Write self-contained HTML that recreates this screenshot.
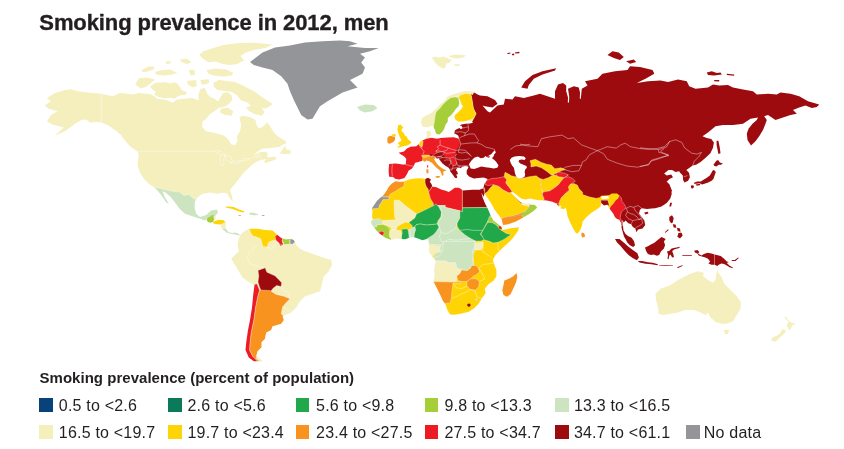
<!DOCTYPE html>
<html lang="en"><head><meta charset="utf-8"><title>Smoking prevalence in 2012, men</title>
<style>
html,body{margin:0;padding:0;background:#fff}
body{width:844px;height:449px;position:relative;overflow:hidden;font-family:"Liberation Sans",sans-serif;color:#231f20}
h1{position:absolute;left:39.3px;top:10.8px;margin:0;font-size:22px;line-height:24px;font-weight:bold;letter-spacing:-0.09px;white-space:nowrap;-webkit-text-stroke:0.35px #231f20}
.lh{position:absolute;left:39.5px;top:369.3px;font-size:15px;line-height:18px;font-weight:bold;letter-spacing:0.03px;white-space:nowrap}
.sw{position:absolute;width:13.7px;height:13.7px}
.lt{position:absolute;font-size:16px;line-height:18px;letter-spacing:0.2px;white-space:nowrap}
svg{position:absolute;left:0;top:0}
</style></head><body>
<svg width="844" height="449" viewBox="0 0 844 449" stroke-linejoin="round">
<defs><clipPath id="c1"><polygon points="47.0,98.0 55.0,93.0 65.0,90.0 71.2,89.2 77.5,91.2 87.5,92.5 101.2,93.8 112.5,96.2 120.0,93.0 126.2,93.8 133.8,94.5 138.8,93.0 145.0,93.8 151.2,94.5 156.2,97.5 156.7,98.8 165.6,99.7 172.8,102.7 176.3,99.7 183.4,98.8 192.4,97.9 198.6,100.6 198.6,94.3 200.4,89.0 204.8,88.1 207.0,93.4 210.2,97.0 214.6,98.8 218.2,101.5 222.6,93.4 227.1,91.7 231.5,95.2 232.4,99.7 228.9,104.1 224.4,106.8 219.1,107.7 215.5,110.4 210.2,113.9 204.8,120.0 202.5,121.2 202.0,127.0 206.2,131.2 215.0,133.0 223.8,135.5 228.8,140.0 231.2,144.5 235.0,145.0 237.5,141.2 237.0,136.2 240.0,131.2 241.2,125.0 239.5,117.5 242.5,115.8 250.0,117.0 255.4,120.1 256.6,124.9 259.0,128.4 262.5,126.7 265.5,124.3 266.7,121.9 269.6,125.5 272.0,129.6 275.6,134.4 280.3,137.9 285.6,140.9 285.7,141.0 285.7,143.4 282.1,145.1 279.8,146.9 270.3,148.1 262.0,148.7 257.3,151.7 253.1,155.8 255.5,154.6 259.6,152.3 265.5,151.7 267.9,153.4 266.7,156.4 269.1,157.6 273.8,156.8 276.4,157.2 275.6,159.4 271.5,161.1 267.9,162.3 265.0,162.9 264.4,161.1 266.1,158.8 263.2,159.4 259.6,160.5 255.5,162.3 253.7,163.5 250.7,165.9 247.8,168.8 243.8,172.5 240.0,177.5 235.0,183.8 230.0,190.0 232.0,196.2 232.8,201.2 230.0,198.8 227.5,193.8 223.8,192.5 217.5,193.8 210.0,192.5 202.5,193.8 197.5,197.5 195.0,201.2 194.5,207.5 196.2,213.8 200.0,217.0 206.2,215.0 211.2,210.5 217.0,209.5 218.0,212.5 215.0,216.2 212.5,218.8 207.5,218.8 205.0,220.5 200.0,218.8 192.5,216.2 185.0,213.8 179.5,208.8 175.0,202.5 170.0,196.2 165.5,192.5 162.5,191.2 165.0,197.5 168.8,203.8 166.2,202.5 161.2,195.0 157.0,190.0 155.0,188.0 148.8,183.8 143.8,178.8 140.0,172.5 137.5,165.0 138.8,155.0 137.5,151.2 130.0,146.2 122.5,137.5 118.8,130.0 128.8,142.5 122.5,136.2 115.0,130.0 107.5,125.0 101.2,122.5 96.2,122.0 90.0,122.5 86.2,119.5 81.2,120.0 75.0,123.8 65.0,131.2 55.0,135.5 63.8,127.5 58.8,126.2 52.5,124.5 47.0,121.2 51.2,115.0 57.5,111.2 48.8,108.8 44.5,105.5 51.2,101.2"/><polygon points="135.3,84.5 138.9,78.3 146.9,77.4 154.9,79.6 150.5,83.6 146.0,86.7 140.7,88.5"/><polygon points="150.1,86.4 155.5,82.8 164.4,82.3 171.5,83.4 173.8,82.3 177.4,83.4 179.8,87.0 182.1,90.5 186.9,92.3 185.7,94.7 180.9,95.3 177.4,96.5 175.0,98.8 170.3,97.7 164.4,98.2 158.4,97.1 153.7,94.1 156.1,92.3 152.5,89.4"/><polygon points="141.6,70.3 147.8,66.7 154.9,66.7 153.2,69.4 146.9,71.7 142.5,72.1"/><polygon points="154.9,72.1 162.1,70.3 170.1,69.4 177.2,73.0 171.0,74.7 163.8,75.6 156.7,74.7"/><polygon points="188.8,70.3 194.1,69.4 195.0,74.7 190.6,75.6"/><polygon points="179.9,59.6 187.0,58.7 191.5,62.3 187.0,64.1 181.7,62.3"/><polygon points="165.6,61.4 171.0,61.0 170.1,63.5 166.5,64.1"/><polygon points="187.0,81.0 195.9,80.1 196.8,86.3 192.4,87.2 187.9,84.5"/><polygon points="200.4,80.1 208.4,79.2 209.3,82.8 204.8,84.5 201.3,84.2"/><polygon points="199.5,55.1 203.0,51.6 210.2,48.9 222.6,45.3 236.9,43.2 254.7,42.7 272.5,44.5 265.4,48.0 254.7,49.8 245.8,52.5 240.5,56.0 244.0,60.5 236.9,64.1 229.8,64.9 222.6,64.1 215.5,61.4 208.4,62.3 203.0,58.7"/><polygon points="206.6,70.3 215.5,68.5 226.2,69.4 233.3,73.0 231.5,75.6 222.6,76.5 213.7,75.6 208.4,73.8"/><polygon points="213.7,82.8 219.1,80.1 226.2,81.0 235.1,81.9 240.5,84.5 247.6,88.1 254.7,91.7 261.8,97.0 269.0,101.5 272.5,104.1 269.0,106.8 265.4,108.6 261.8,107.7 264.5,112.2 261.8,115.7 254.7,113.9 249.4,111.3 245.8,107.7 251.1,105.9 247.6,102.4 241.3,100.6 236.9,95.2 231.5,91.7 224.4,90.8 217.3,89.9 213.7,86.3"/><polygon points="220.9,108.6 228.0,107.7 233.3,111.3 231.5,115.7 224.4,114.8 220.0,112.2"/><polygon points="279.8,153.4 282.7,149.3 285.1,145.7 286.3,149.3 290.4,150.5 291.0,153.4 286.9,154.0 283.3,154.0"/></clipPath><clipPath id="c2"><polygon points="250.0,62.0 262.5,52.5 275.0,47.5 290.0,45.5 305.0,42.5 322.5,41.2 340.0,40.5 350.0,41.2 357.5,43.8 347.5,46.2 365.0,48.0 378.8,48.0 370.0,51.2 360.0,53.8 365.0,57.5 361.2,62.5 365.0,67.5 362.5,73.8 357.5,76.2 350.0,80.0 357.5,87.5 350.0,90.0 342.5,92.5 336.2,96.2 327.5,101.2 320.0,106.2 316.2,112.5 312.5,118.8 307.5,119.5 301.2,115.0 297.5,107.5 293.8,100.0 290.0,91.2 287.5,83.8 281.2,76.2 272.5,70.0 262.5,67.5 253.8,65.0"/></clipPath><clipPath id="c3"><polygon points="357.0,107.0 365.0,104.5 373.8,105.0 377.5,108.0 372.5,111.2 365.0,112.5 360.0,110.5"/></clipPath><clipPath id="c4"><polygon points="431.8,57.8 435.4,56.6 439.0,57.8 443.7,56.6 448.4,58.4 452.0,60.1 449.6,62.5 446.1,63.7 444.9,68.4 441.3,67.8 437.8,65.5 434.8,61.9"/><polygon points="448.4,56.0 454.4,54.8 460.3,54.8 466.2,55.4 462.7,57.8 456.7,58.4 452.0,57.8"/><polygon points="454.4,64.3 459.7,64.3 459.7,66.1 454.4,66.1"/></clipPath><clipPath id="c5"><polygon points="422.8,126.7 421.0,122.8 421.9,118.3 426.3,115.6 431.7,113.0 435.2,109.4 440.6,104.1 445.9,99.6 446.8,96.9 451.3,95.1 458.4,92.8 465.5,91.0 472.6,91.6 477.1,94.3 480.0,95.5 487.5,96.2 495.0,100.0 497.5,103.8 492.5,107.5 485.0,106.2 482.5,105.5 487.5,111.2 490.0,112.5 497.5,105.5 503.8,104.5 505.0,98.8 512.5,99.5 515.0,96.2 523.8,98.0 533.8,95.5 540.0,93.8 547.5,96.2 555.0,98.8 555.0,91.2 558.0,84.5 563.0,83.0 566.2,85.5 566.2,91.2 568.0,97.5 567.8,102.5 569.0,102.5 569.2,96.2 568.0,88.8 573.8,86.2 578.8,87.5 580.0,92.5 579.8,98.8 580.8,98.8 581.8,88.8 587.5,85.5 585.0,81.2 597.5,78.8 602.5,73.8 615.0,71.2 627.5,70.0 630.0,66.2 640.0,67.0 652.5,70.0 653.8,72.5 654.2,73.8 645.5,78.8 636.8,83.0 648.0,81.2 660.5,80.5 668.0,82.0 678.0,79.5 686.8,81.2 689.2,86.2 695.5,88.8 708.0,87.5 713.0,84.5 719.2,85.5 728.0,85.0 733.0,87.5 743.0,89.5 753.0,91.2 756.8,94.5 768.0,93.8 776.8,94.5 780.5,92.5 790.5,93.8 799.2,96.2 808.0,101.2 819.2,104.5 816.8,107.0 811.8,108.0 805.5,105.5 799.2,107.5 793.0,110.0 796.8,113.8 790.5,115.0 783.0,117.5 775.5,120.0 768.0,115.0 764.2,116.2 766.8,120.0 765.0,125.0 763.0,130.0 759.2,136.2 755.5,141.2 751.0,145.5 747.5,140.0 746.8,133.8 748.5,128.8 752.5,123.8 756.8,120.0 758.0,117.5 750.5,118.8 743.0,123.8 733.0,125.0 723.0,125.0 715.5,126.2 708.0,132.5 702.5,136.2 706.8,138.0 711.3,138.9 713.9,142.5 713.0,147.8 710.4,153.2 705.9,157.6 700.6,162.1 696.1,164.7 692.6,165.6 689.9,167.4 686.3,170.1 689.0,172.8 689.9,177.2 688.1,180.8 684.5,182.6 683.1,179.9 682.8,175.4 680.1,172.8 679.2,171.3 675.6,171.9 672.1,170.1 668.5,170.1 664.1,173.6 666.7,175.4 671.2,174.5 673.0,177.2 669.4,179.0 666.7,181.7 669.4,184.3 671.2,188.8 671.7,194.1 670.3,198.6 666.7,203.0 661.4,206.6 654.3,208.4 668.4,185.0 672.0,190.3 670.2,196.6 666.6,201.9 661.3,205.5 654.1,208.2 647.0,209.1 641.7,208.2 639.9,209.9 639.0,213.5 641.7,217.1 644.3,220.6 645.2,225.1 642.6,228.6 638.1,229.5 636.3,232.2 635.4,228.6 632.8,226.9 631.3,224.2 628.3,223.3 625.6,220.6 623.8,222.4 622.1,219.7 623.0,226.0 623.5,230.4 625.6,234.0 628.0,235.9 631.6,237.7 633.9,241.0 635.1,245.3 633.2,247.0 629.9,245.3 627.3,242.4 625.6,239.3 624.0,236.5 623.0,233.1 621.7,228.6 621.2,223.3 619.4,219.7 616.7,218.8 614.9,217.1 613.2,213.5 610.5,209.9 608.7,207.3 606.9,204.6 609.4,208.3 607.6,204.7 604.0,205.6 601.3,203.0 600.5,206.5 596.9,209.2 591.5,212.8 586.2,217.2 582.6,221.7 581.8,226.1 580.0,230.6 577.3,233.8 575.5,232.4 572.8,227.9 570.2,222.6 567.5,216.3 566.6,211.0 565.7,207.4 563.9,209.2 560.4,208.3 561.3,205.6 558.6,206.5 556.8,203.8 552.4,201.7 547.0,200.6 542.6,200.3 539.0,200.3 534.5,199.4 530.1,198.5 525.6,199.4 521.2,198.5 516.7,194.9 513.2,192.3 510.5,192.3 512.3,194.1 514.9,196.7 517.6,199.4 520.3,202.1 523.8,203.0 526.5,203.8 529.2,203.0 531.0,204.7 534.5,204.7 537.2,207.4 533.6,211.0 528.3,214.5 522.4,218.1 515.3,221.7 508.2,224.2 503.4,225.1 502.8,224.0 501.6,219.2 499.2,215.7 496.3,212.1 493.9,208.6 492.1,205.0 490.4,202.0 489.0,199.9 486.3,196.3 484.5,193.6 483.3,188.3 484.5,183.8 486.7,180.6 487.7,178.9 483.6,177.6 478.3,178.1 473.8,178.5 469.4,176.7 466.7,174.1 466.7,170.5 468.5,167.6 467.9,166.4 465.6,166.0 462.0,166.8 460.8,168.2 459.1,167.6 457.0,168.2 455.9,170.0 457.3,171.7 457.9,174.1 456.1,174.7 457.3,176.5 456.7,178.2 454.9,177.7 453.7,175.9 451.9,173.5 450.4,171.7 449.9,169.4 448.4,167.6 445.4,165.8 442.5,163.4 440.1,160.5 438.3,158.1 437.1,158.7 435.4,157.5 434.2,159.3 435.9,162.3 438.3,165.2 441.9,168.2 445.4,170.0 446.6,171.1 444.2,171.1 443.1,172.3 443.6,174.7 442.5,175.9 441.3,173.5 440.1,170.5 437.1,168.2 434.2,165.2 431.8,162.8 428.8,161.1 426.5,160.5 424.7,161.7 422.9,160.5 419.4,161.7 415.2,162.8 413.4,166.4 411.7,168.8 408.7,170.5 406.9,174.3 404.5,177.9 399.2,179.4 395.1,178.8 393.3,177.1 389.1,176.7 388.6,170.5 389.1,164.0 395.7,163.4 402.8,164.6 405.7,164.6 406.3,158.7 404.0,156.3 401.0,154.5 398.6,152.8 404.0,151.6 406.9,148.6 410.5,146.8 416.4,146.3 418.8,143.9 420.5,141.5 422.9,140.3 425.3,139.1 426.7,138.4 426.7,134.3 426.0,132.0 428.1,131.1 430.2,130.8 431.1,134.3 429.5,136.7 432.6,137.9 437.0,138.8 440.6,137.9 447.8,137.6 453.7,137.2 459.0,138.8 458.4,135.8 456.7,134.6 454.3,133.4 454.9,130.5 456.7,129.3 459.6,128.1 460.8,129.3 462.6,128.1 461.4,125.7 459.6,125.7 461.4,124.5 465.5,123.7 470.3,123.4 473.2,122.5 471.5,121.6 469.7,121.0 467.9,120.4 463.2,121.6 458.4,121.6 455.5,119.8 454.3,116.8 455.5,114.5 458.4,112.1 461.4,109.1 462.6,106.8 461.1,103.2 459.3,98.7 458.4,98.7 459.3,103.2 458.4,106.4 456.1,108.6 453.7,112.1 451.3,115.1 447.8,118.0 447.8,121.6 445.4,125.1 444.2,128.7 442.4,131.7 439.5,134.6 436.5,134.0 435.3,131.7 435.2,129.9 433.4,127.2 432.6,125.4 428.1,127.2"/><polygon points="521.2,87.5 525.0,81.2 532.5,75.0 542.5,71.2 556.2,68.2 555.0,70.5 542.5,74.5 533.8,78.8 528.8,85.0 527.5,88.8"/><polygon points="507.1,53.3 510.0,52.4 510.6,53.6 507.7,54.0"/><polygon points="511.8,54.0 514.2,53.6 514.2,55.2 512.2,55.2"/><polygon points="514.8,52.4 519.5,51.8 519.3,53.3 515.4,53.6"/><polygon points="607.5,55.0 612.5,51.2 618.8,52.5 623.8,57.0 620.0,60.0 613.8,58.0"/><polygon points="626.2,61.2 633.8,59.5 636.2,62.0 630.0,63.8"/><polygon points="706.8,72.5 711.8,71.2 716.8,73.0 720.5,72.5 721.8,74.5 714.2,75.5 708.0,75.0"/><polygon points="726.8,73.8 734.2,74.5 734.2,75.8 726.8,75.0"/><polygon points="714.2,80.0 719.2,80.0 719.2,81.5 714.2,81.2"/><polygon points="716.6,140.7 718.4,140.7 719.8,147.8 720.5,153.2 718.4,154.1 717.5,149.6 716.6,145.1"/><polygon points="713.4,164.8 716.4,160.7 718.1,160.1 719.9,162.4 722.9,163.6 721.1,164.8 718.7,164.8 716.4,166.6 714.6,166.0"/><polygon points="714.0,170.1 715.8,171.9 714.6,175.5 713.4,179.0 711.6,180.8 708.1,182.6 704.5,183.8 702.1,184.4 699.8,183.2 696.2,183.8 693.8,183.8 694.4,182.6 697.4,181.4 700.9,181.4 703.9,179.6 706.9,177.8 709.8,175.5 711.6,172.5 712.6,170.4"/><polygon points="690.9,185.5 693.2,185.3 694.1,187.0 692.7,188.5 691.2,188.2"/><polygon points="695.6,184.6 699.8,183.8 700.4,185.0 696.8,185.8"/><polygon points="670.2,202.8 672.0,202.8 671.1,206.4 669.3,206.4"/><polygon points="644.3,212.6 647.9,211.7 648.4,213.5 645.2,214.4"/><polygon points="435.4,176.2 439.5,175.9 440.1,176.7 438.3,177.9 435.9,177.4"/><polygon points="426.2,169.4 428.2,169.1 428.6,172.9 426.7,173.5"/><polygon points="427.1,165.2 428.2,165.2 428.2,167.6 427.1,167.6"/></clipPath><clipPath id="c6"><polygon points="398.3,125.1 401.4,124.7 401.8,126.5 403.6,127.4 401.8,129.1 401.4,130.9 403.6,132.7 404.9,135.4 406.7,136.7 408.0,139.4 410.7,141.2 411.2,142.9 409.4,144.3 407.6,145.6 404.0,146.1 400.9,147.0 397.8,147.8 397.4,147.0 400.0,145.2 398.7,144.3 397.8,142.9 400.5,141.6 401.4,139.8 400.0,137.6 399.1,134.9 398.3,132.7 397.4,130.0 397.8,127.4"/><polygon points="391.6,134.5 394.7,134.0 396.0,135.4 395.1,136.7 392.9,136.5"/></clipPath><clipPath id="c7"><polygon points="387.8,136.7 391.1,135.8 392.9,136.5 395.1,137.2 395.0,139.8 393.4,142.1 389.8,143.7 387.6,142.9 387.3,139.8"/></clipPath><clipPath id="c8"><polygon points="581.8,232.4 584.1,233.2 585.3,236.3 582.6,237.7 581.2,235.0"/></clipPath><clipPath id="c9"><polygon points="395.5,181.3 399.6,181.8 404.4,181.3 409.1,179.5 415.0,178.5 420.9,178.3 425.1,178.9 428.1,177.7 431.0,179.5 429.8,181.8 431.6,184.2 432.2,186.6 436.4,187.2 441.1,189.5 445.8,190.7 448.8,191.9 451.8,190.1 454.7,187.8 458.9,187.8 461.8,189.5 462.8,190.6 472.6,189.7 479.8,189.7 480.1,189.6 483.3,188.3 484.5,193.6 483.6,196.7 482.4,194.5 481.3,192.8 482.8,198.1 485.4,204.3 487.2,207.4 489.0,211.5 490.8,215.9 493.4,220.4 498.8,224.8 501.5,227.0 501.6,228.1 502.8,230.1 511.1,228.2 518.8,227.3 518.2,230.5 515.8,234.0 512.3,238.8 507.5,243.5 502.8,247.7 499.2,251.2 495.7,254.8 493.9,258.0 492.8,260.1 494.6,265.5 496.4,269.9 496.4,276.2 493.7,280.6 488.4,284.2 484.8,288.6 485.7,293.1 483.0,296.7 481.3,299.3 478.6,303.8 474.1,308.2 468.8,311.8 461.7,313.6 454.5,314.8 450.1,314.5 447.4,310.0 445.6,304.7 443.0,301.1 440.3,294.9 436.7,287.8 433.5,281.5 434.6,275.3 434.1,269.9 434.9,264.6 435.8,261.0 433.2,257.5 429.6,253.0 427.8,247.7 428.6,250.0 429.5,246.5 428.6,242.0 427.7,238.4 425.9,239.3 422.4,240.2 417.9,238.4 413.4,237.0 409.9,237.6 405.4,239.3 401.0,239.0 395.6,238.4 391.2,239.9 389.4,239.3 385.8,238.1 382.3,235.8 379.6,233.5 376.9,231.0 374.3,227.8 371.6,224.2 371.0,221.5 372.8,219.7 372.1,216.2 372.5,211.7 372.4,210.9 371.8,208.5 374.1,205.0 377.1,200.8 380.7,197.3 383.6,194.9 386.6,190.7 389.0,186.6 391.9,183.6"/></clipPath><clipPath id="c10"><polygon points="516.5,273.1 517.3,277.1 516.0,282.4 513.3,288.6 510.7,294.0 507.1,296.7 503.5,294.9 502.3,290.4 503.5,285.1 504.4,280.6 508.9,278.8 513.3,276.2"/></clipPath><clipPath id="c11"><polygon points="241.2,233.8 246.2,230.0 250.0,228.8 252.5,228.8 257.5,228.8 265.0,230.0 272.5,230.5 276.2,233.8 277.5,235.0 281.2,238.0 286.2,239.5 290.0,238.8 293.8,240.0 296.2,245.0 300.0,248.8 305.0,251.2 312.5,253.8 322.5,257.5 331.2,260.0 332.0,265.0 328.8,271.2 323.8,276.2 322.0,283.8 320.0,291.2 312.5,293.8 305.0,296.2 300.0,301.2 296.2,307.5 291.2,312.5 285.0,315.0 282.5,316.2 283.8,320.0 281.2,323.8 272.5,326.2 271.2,330.0 266.2,332.5 265.0,338.8 261.2,342.5 262.5,346.2 257.5,351.2 256.2,356.2 261.2,359.5 263.0,361.2 257.5,361.2 253.8,361.2 248.8,357.5 245.5,350.0 246.2,342.5 248.0,330.0 250.0,320.0 252.0,307.5 253.2,295.0 254.5,285.0 255.0,285.0 248.8,282.0 242.5,277.5 238.8,271.2 235.0,265.0 231.2,258.8 233.8,256.2 238.8,251.2 237.5,245.0 238.8,238.8"/></clipPath><clipPath id="c12"><polygon points="206.7,220.1 207.9,217.4 210.6,216.5 211.5,215.3 213.8,215.3 213.8,216.7 213.2,216.5 214.1,219.2 213.2,221.9 210.6,222.8 207.9,221.9"/></clipPath><clipPath id="c13"><polygon points="213.8,216.0 215.6,216.0 215.6,219.6 214.1,219.6"/></clipPath><clipPath id="c14"><polygon points="213.2,222.0 214.5,221.3 217.7,220.1 223.0,220.1 225.7,221.9 223.0,223.6 220.4,224.5 217.7,224.2 215.6,224.0 213.4,223.5"/></clipPath><clipPath id="c15"><polygon points="220.4,224.5 223.0,223.6 225.7,222.4 225.7,228.1 223.4,229.9 221.3,227.7"/></clipPath><clipPath id="c16"><polygon points="222.2,229.0 225.7,228.5 228.4,232.0 232.0,233.1 235.5,232.6 238.2,233.4 240.3,235.6 237.3,234.9 233.7,234.3 230.2,233.8 226.6,232.6"/></clipPath><clipPath id="c17"><polygon points="224.8,207.1 228.4,206.4 233.7,207.1 239.1,209.4 244.4,211.2 243.5,212.4 238.2,211.2 232.8,208.9 227.5,208.1"/></clipPath><clipPath id="c18"><polygon points="238.5,214.9 240.9,214.9 240.9,215.8 238.5,215.8"/></clipPath><clipPath id="c19"><polygon points="249.2,213.0 252.4,212.4 256.9,213.8 258.7,214.9 254.2,215.3 249.8,214.7"/></clipPath><clipPath id="c20"><polygon points="261.9,214.9 264.4,214.9 264.4,215.8 261.9,215.8"/></clipPath><clipPath id="c21"><polygon points="655.5,293.8 660.5,288.8 670.5,285.0 678.0,280.0 683.0,277.5 690.5,273.8 698.0,271.2 704.0,272.8 702.8,275.5 707.2,279.5 712.8,282.8 715.5,280.0 716.0,274.8 717.5,270.0 718.8,273.5 721.5,276.8 724.2,283.8 730.5,290.0 736.8,296.2 741.0,302.5 740.5,308.8 736.8,315.0 733.0,321.2 726.8,323.8 721.8,323.8 715.5,322.0 710.5,317.5 708.0,312.5 705.5,315.0 700.5,312.5 694.2,310.0 685.5,310.0 678.0,312.5 670.5,313.8 663.0,315.0 658.5,313.8 658.0,307.5 656.0,300.0"/><polygon points="723.5,330.0 729.2,330.0 728.0,333.8 725.5,334.5"/><polygon points="784.5,316.9 786.3,317.1 787.6,319.3 788.9,321.1 790.7,322.0 793.4,323.4 795.6,322.9 794.3,324.7 792.1,325.6 791.2,327.8 789.8,330.0 788.5,330.0 788.3,327.8 786.7,326.5 787.2,324.2 788.5,322.0 786.7,319.8 785.4,318.5"/><polygon points="782.7,329.1 784.0,329.6 785.8,330.5 785.4,332.3 783.6,334.0 781.8,335.8 779.6,337.6 777.8,339.8 775.6,341.6 773.4,341.6 771.1,340.3 771.6,338.5 774.2,336.7 777.4,335.4 780.0,333.2 781.4,330.9"/></clipPath><clipPath id="c22"><polygon points="669.3,217.1 672.0,215.3 673.7,218.0 672.8,222.4 671.1,223.3 669.3,220.6"/><polygon points="672.8,224.2 675.5,224.6 676.4,227.8 673.7,227.4"/><polygon points="676.9,227.8 680.0,228.6 680.5,231.7 677.7,231.0"/><polygon points="678.2,234.0 681.8,233.1 682.6,235.8 680.0,238.4 677.3,236.7"/><polygon points="664.8,232.2 668.0,229.2 668.7,229.9 665.5,232.7"/><polygon points="645.0,247.4 647.9,246.2 650.9,244.4 654.4,242.7 658.0,239.7 661.5,237.0 665.7,239.1 663.9,241.5 665.1,245.0 663.9,248.6 660.9,251.5 659.2,255.1 656.8,255.7 653.8,254.5 650.9,255.1 647.9,253.9 646.1,251.0"/><polygon points="615.0,238.9 619.5,239.1 623.7,242.5 628.5,246.7 633.2,250.2 637.4,253.3 638.9,257.5 636.9,260.2 632.6,258.1 628.5,255.1 624.3,250.4 620.8,246.2 617.1,242.4"/><polygon points="637.8,261.0 642.0,261.0 647.9,262.2 652.7,262.8 658.0,264.2 657.4,265.2 651.5,264.2 645.5,263.8 639.6,262.6"/><polygon points="659.2,264.9 665.7,265.2 672.8,265.4 672.8,266.1 665.7,266.0 659.2,265.6"/><polygon points="676.9,267.3 682.3,265.2 682.9,265.8 678.1,267.9"/><polygon points="666.9,251.5 669.2,251.0 671.6,248.6 676.4,247.4 679.9,246.8 679.3,248.0 674.6,249.2 672.2,251.0 673.4,254.5 674.0,256.9 672.2,257.5 670.4,254.5 669.2,255.7 668.6,259.3 667.5,258.7 668.1,254.5"/><polygon points="678.1,233.2 681.1,232.6 682.5,235.0 681.1,237.3 678.7,236.7"/><polygon points="682.3,255.0 691.8,255.0 691.8,255.7 682.3,255.7"/><polygon points="694.0,250.7 697.4,250.0 699.4,252.0 698.0,253.4 701.4,255.4 704.0,254.0 707.4,252.7 711.4,253.4 714.7,254.4 720.7,256.0 724.1,258.7 726.8,261.4 728.8,262.1 726.8,263.0 729.4,265.4 732.8,267.4 733.4,268.3 730.1,267.4 726.8,265.4 724.1,264.1 721.4,263.4 718.7,264.7 717.4,266.1 714.7,264.7 711.4,264.7 708.7,263.4 708.0,264.1 710.1,261.4 708.0,258.7 705.4,257.4 702.7,256.7 698.7,255.4 697.4,253.4 695.3,252.7"/><polygon points="731.4,260.1 734.8,260.1 738.1,257.4 738.8,258.0 735.5,261.0 732.1,261.0"/></clipPath></defs>
<g clip-path="url(#c1)" opacity="0.999"><rect x="0" y="0" width="844" height="449" fill="#f4efbc"/>
<polygon points="150.0,186.2 165.0,189.5 172.5,191.2 180.0,192.0 183.8,195.5 188.8,194.5 193.8,198.8 198.8,200.0 200.0,205.0 225.0,205.0 225.0,225.0 150.0,225.0" fill="#cce5c0" stroke="#fff" stroke-width="0.45" stroke-opacity="0.75"/>
<polyline points="101.2,93.8 101.2,122.5" fill="none" stroke="#fff" stroke-width="0.6" stroke-opacity="0.9"/>
<polyline points="137.5,151.2 213.8,151.2 217.5,150.5 222.5,152.0 225.0,154.5 221.2,155.0 217.5,153.0 213.8,151.2" fill="none" stroke="#fff" stroke-width="0.5" stroke-opacity="0.85"/>
<polyline points="221.2,155.0 220.0,160.0 221.2,166.2 223.8,165.0 223.8,158.8 225.0,155.0 230.0,156.2 233.0,161.2 230.0,162.5 226.2,159.5 225.0,155.0" fill="none" stroke="#fff" stroke-width="0.5" stroke-opacity="0.85"/>
<polyline points="230.0,162.5 233.8,163.8 240.0,162.5 242.0,160.5 247.5,160.0 250.0,158.5 243.8,158.5 241.2,160.5 236.2,161.2 233.0,161.2" fill="none" stroke="#fff" stroke-width="0.5" stroke-opacity="0.85"/>
<polyline points="250.0,158.5 256.2,156.2 260.0,153.8 255.5,158.2 260.2,155.2 261.0,159.4 258.4,161.7" fill="none" stroke="#fff" stroke-width="0.5" stroke-opacity="0.7"/>
</g>
<g clip-path="url(#c2)" opacity="0.999"><rect x="0" y="0" width="844" height="449" fill="#939598"/>
</g>
<g clip-path="url(#c3)" opacity="0.999"><rect x="0" y="0" width="844" height="449" fill="#cce5c0"/>
</g>
<g clip-path="url(#c4)" opacity="0.999"><rect x="0" y="0" width="844" height="449" fill="#f4efbc"/>
</g>
<g clip-path="url(#c5)" opacity="0.999"><rect x="0" y="0" width="844" height="449" fill="#9e0b0f"/>
<polygon points="420.5,138.6 425.3,137.4 459.1,136.8 459.9,143.9 457.9,148.0 456.1,150.4 455.5,152.2 456.7,154.0 453.7,156.9 449.6,158.3 445.4,157.7 443.6,154.5 434.8,154.0 430.0,154.5 422.9,157.5 423.2,160.5 420.5,165.8 405.1,181.2 386.2,181.2 386.2,161.1 396.8,149.2 414.6,143.3" fill="#ed1c24"/>
<polygon points="432.4,155.4 434.8,154.0 437.1,152.8 440.7,151.8 444.2,152.2 443.6,154.5 440.7,156.3 437.1,156.9 434.2,156.3" fill="#9e0b0f" stroke="#fff" stroke-width="0.45" stroke-opacity="0.75"/>
<polygon points="418.5,143.9 419.4,141.9 421.5,140.3 423.2,141.5 422.7,144.5 422.0,146.8 420.0,146.3" fill="#ffd405" stroke="#fff" stroke-width="0.45" stroke-opacity="0.75"/>
<polygon points="421.7,155.7 424.7,154.9 429.4,155.1 429.8,156.9 426.5,158.1 422.9,157.5" fill="#ffd405" stroke="#fff" stroke-width="0.45" stroke-opacity="0.75"/>
<polygon points="449.6,158.3 453.7,156.9 455.5,159.3 456.7,162.3 456.1,165.2 453.1,165.8 451.4,163.4 450.8,160.5" fill="#ed1c24" stroke="#fff" stroke-width="0.45" stroke-opacity="0.75"/>
<polygon points="422.7,157.3 425.3,157.5 428.8,156.3 432.4,156.1 435.7,157.3 437.1,162.3 449.0,170.5 444.2,178.8 432.4,178.8 424.1,174.1 422.4,162.3" fill="#f7931e" stroke="#fff" stroke-width="0.45" stroke-opacity="0.75"/>
<polygon points="426.7,164.9 428.6,164.9 428.6,167.9 426.7,167.9" fill="#ed1c24"/>
<polyline points="440.1,139.7 440.1,145.1 437.1,146.8 438.9,148.6 435.9,151.0 437.1,152.8" fill="none" stroke="#fff" stroke-width="0.5" stroke-opacity="0.8"/>
<polyline points="440.1,145.1 444.2,146.8 448.4,148.0 451.4,149.2 456.1,150.4" fill="none" stroke="#fff" stroke-width="0.5" stroke-opacity="0.8"/>
<polyline points="435.9,151.0 438.9,151.0 441.9,151.6 446.6,150.4 448.4,148.0" fill="none" stroke="#fff" stroke-width="0.5" stroke-opacity="0.8"/>
<polyline points="444.2,152.2 446.6,153.4 451.4,152.8 455.5,152.2" fill="none" stroke="#fff" stroke-width="0.5" stroke-opacity="0.8"/>
<polyline points="421.7,148.6 424.1,151.6 422.9,154.5 421.7,156.1" fill="none" stroke="#fff" stroke-width="0.5" stroke-opacity="0.8"/>
<polyline points="405.7,164.6 409.9,165.6 413.4,166.4" fill="none" stroke="#fff" stroke-width="0.5" stroke-opacity="0.8"/>
<polyline points="392.3,164.4 391.9,170.5 392.3,176.5" fill="none" stroke="#fff" stroke-width="0.5" stroke-opacity="0.8"/>
<polyline points="422.3,144.5 421.7,148.6 419.4,146.8" fill="none" stroke="#fff" stroke-width="0.5" stroke-opacity="0.8"/>
<polyline points="456.7,154.0 454.9,156.3 455.9,158.7 458.5,159.6 462.0,160.1 466.8,159.3 469.7,158.7" fill="none" stroke="#fff" stroke-width="0.5" stroke-opacity="0.8"/>
<polyline points="456.1,150.4 460.8,149.8 465.6,150.4 467.9,152.8 470.1,155.7" fill="none" stroke="#fff" stroke-width="0.5" stroke-opacity="0.8"/>
<polyline points="456.7,162.3 457.3,165.2 460.8,166.0 465.6,165.6 468.5,166.0" fill="none" stroke="#fff" stroke-width="0.5" stroke-opacity="0.8"/>
<polyline points="450.8,170.5 453.7,168.2 457.3,167.6 460.8,166.0" fill="none" stroke="#fff" stroke-width="0.5" stroke-opacity="0.8"/>
<polyline points="449.9,169.4 452.5,168.8 453.1,165.8" fill="none" stroke="#fff" stroke-width="0.5" stroke-opacity="0.8"/>
<polyline points="438.3,158.5 442.5,157.5 445.4,157.7 449.6,158.3" fill="none" stroke="#fff" stroke-width="0.5" stroke-opacity="0.8"/>
<polyline points="444.2,160.5 446.6,159.9 450.2,160.1 450.8,162.8 449.0,165.8" fill="none" stroke="#fff" stroke-width="0.5" stroke-opacity="0.8"/>
<polyline points="437.1,156.9 440.7,156.3 442.5,157.5" fill="none" stroke="#fff" stroke-width="0.5" stroke-opacity="0.8"/>
<polyline points="565.4,169.9 571.7,171.7 578.8,170.8 581.5,165.4" fill="none" stroke="#fff" stroke-width="0.5" stroke-opacity="0.8"/>
<polygon points="433.4,137.4 442.4,136.1 450.4,130.2 454.8,124.5 460.2,122.8 471.8,122.4 474.1,118.3 476.2,113.8 473.5,108.5 472.6,103.2 471.8,97.8 470.9,93.9 472.6,95.1 476.2,88.9 442.4,90.7 415.6,115.6 419.2,129.9" fill="#f4efbc"/>
<polygon points="433.4,127.2 434.3,121.9 435.2,115.6 436.1,112.1 439.7,108.5 442.4,104.9 445.9,101.4 450.4,97.8 454.8,96.9 458.4,97.8 463.7,103.2 456.6,115.6 451.3,124.5 440.6,137.0 433.4,135.2" fill="#a6ce39" stroke="#fff" stroke-width="0.45" stroke-opacity="0.75"/>
<polygon points="460.2,95.1 465.5,93.4 470.9,93.9 471.8,97.8 472.6,103.2 473.5,108.5 476.2,113.8 473.5,118.3 470.9,119.8 467.9,120.6 467.9,122.8 453.7,122.8 453.0,115.6 459.3,110.3 462.8,106.7 461.1,103.2 459.3,98.7 458.4,97.8" fill="#ffd405" stroke="#fff" stroke-width="0.45" stroke-opacity="0.75"/>
<polyline points="461.0,128.1 465.5,127.5 468.5,126.9 467.9,124.0" fill="none" stroke="#fff" stroke-width="0.5" stroke-opacity="0.8"/>
<polyline points="455.5,132.3 460.8,131.7 465.5,132.8 468.5,130.5 468.5,126.9" fill="none" stroke="#fff" stroke-width="0.5" stroke-opacity="0.8"/>
<polyline points="459.0,138.8 460.8,137.0 464.4,135.8 465.5,132.8" fill="none" stroke="#fff" stroke-width="0.5" stroke-opacity="0.8"/>
<polyline points="464.4,135.8 469.1,134.0 474.4,134.0 476.2,137.0 478.6,140.5 476.8,142.9 471.5,142.9 465.5,143.5 460.8,144.1 459.6,140.5 459.0,138.8" fill="none" stroke="#fff" stroke-width="0.5" stroke-opacity="0.8"/>
<polyline points="476.8,142.9 480.9,144.1 485.7,147.1 490.4,148.2 494.6,149.4 494.6,152.4 491.6,155.9 486.9,157.1" fill="none" stroke="#fff" stroke-width="0.5" stroke-opacity="0.8"/>
<polyline points="460.8,144.1 459.0,148.8 458.4,152.4 462.0,153.0 465.5,152.4 469.1,153.6 471.5,156.5" fill="none" stroke="#fff" stroke-width="0.5" stroke-opacity="0.8"/>
<polygon points="424.5,129.9 432.6,129.9 432.6,137.4 426.7,138.4 424.5,135.2" fill="#f4efbc" stroke="#fff" stroke-width="0.45" stroke-opacity="0.75"/>
<polygon points="487.2,180.3 491.7,178.5 497.0,178.1 504.1,176.7 506.8,179.4 505.9,183.0 508.6,186.5 511.3,190.1 512.2,192.8 508.6,192.8 503.2,190.1 498.8,186.5 493.4,184.7 488.1,185.6 485.4,184.7 485.4,181.2" fill="#ed1c24" stroke="#fff" stroke-width="0.45" stroke-opacity="0.75"/>
<polygon points="483.3,187.8 484.5,187.8 484.9,190.1 484.2,193.1 483.3,190.1" fill="#f7931e" stroke="#fff" stroke-width="0.45" stroke-opacity="0.75"/>
<polygon points="484.5,193.6 487.2,191.9 489.9,188.3 493.4,184.7 498.8,186.5 503.2,190.1 508.6,192.8 512.2,192.8 514.8,196.3 518.4,200.8 522.0,204.3 527.3,205.2 529.1,207.0 525.5,211.5 520.2,214.1 513.0,215.9 506.8,216.8 501.5,218.6 493.4,221.3 481.0,196.3" fill="#ffd405" stroke="#fff" stroke-width="0.45" stroke-opacity="0.75"/>
<polygon points="521.1,201.7 528.2,201.3 531.2,203.4 528.7,206.7 526.9,205.6 522.0,204.7" fill="#f4efbc" stroke="#fff" stroke-width="0.45" stroke-opacity="0.75"/>
<polygon points="529.1,207.0 530.9,204.3 534.4,203.4 539.8,207.0 532.6,214.1 522.8,218.6 521.1,214.5 525.5,211.5" fill="#a6ce39" stroke="#fff" stroke-width="0.45" stroke-opacity="0.75"/>
<polygon points="501.0,218.6 506.4,216.8 513.5,216.3 520.6,214.5 522.9,216.3 525.3,220.4 511.1,227.5 501.6,227.5 499.8,221.6" fill="#f7931e" stroke="#fff" stroke-width="0.45" stroke-opacity="0.75"/>
<polygon points="505.0,172.3 508.6,174.1 511.3,175.8 515.7,176.7 519.3,178.5 523.7,178.1 529.1,176.7 536.2,175.8 539.8,178.5 540.7,183.0 541.5,187.4 543.3,191.9 542.4,194.5 544.2,199.0 541.5,203.4 520.2,201.7 513.0,193.6 511.3,190.1 508.6,186.5 505.9,183.0 506.8,179.4 504.1,176.7" fill="#ffd405" stroke="#fff" stroke-width="0.45" stroke-opacity="0.75"/>
<polygon points="530.0,160.7 535.3,159.3 541.5,162.5 546.9,164.3 551.3,165.1 554.9,168.7 561.1,167.8 565.6,169.6 562.0,170.5 558.5,172.3 555.8,173.2 553.1,174.9 551.3,174.9 546.9,171.4 541.5,167.8 536.2,166.0 530.9,166.9 530.9,163.4" fill="#ffd405" stroke="#fff" stroke-width="0.45" stroke-opacity="0.75"/>
<polygon points="539.8,178.5 543.3,179.4 548.7,177.6 553.1,174.9 556.7,175.3 562.9,175.8 568.3,174.9 564.4,177.6 561.1,181.2 558.5,184.7 554.0,188.3 549.6,191.0 542.4,191.9 541.5,187.4 540.7,183.0" fill="#ffd405" stroke="#fff" stroke-width="0.45" stroke-opacity="0.75"/>
<polygon points="555.8,173.2 558.5,172.3 564.7,173.2 568.3,174.9 564.7,177.6 558.5,176.7 556.7,175.3" fill="#ed1c24" stroke="#fff" stroke-width="0.45" stroke-opacity="0.75"/>
<polygon points="544.2,199.0 542.4,194.5 543.3,191.9 549.6,191.0 554.0,188.3 558.5,184.7 561.1,181.2 564.4,177.6 568.3,176.7 572.7,178.5 575.4,181.2 570.9,183.8 569.2,186.5 570.1,189.2 565.6,192.8 562.9,197.2 561.1,203.4 545.1,203.4" fill="#ed1c24" stroke="#fff" stroke-width="0.45" stroke-opacity="0.75"/>
<polygon points="558.6,204.7 559.5,201.2 561.3,197.6 564.8,194.1 569.3,190.5 568.4,186.9 570.2,184.3 573.7,183.4 577.3,185.1 579.1,188.7 582.6,192.3 582.6,194.6 589.8,197.1 596.9,198.5 601.3,198.5 605.8,196.7 612.9,194.9 617.4,194.1 618.3,196.7 614.7,199.4 612.0,203.0 610.3,206.5 607.6,204.7 605.8,201.2 602.2,200.3 601.3,199.4 601.3,203.8 604.0,206.5 596.9,216.3 579.1,241.3 568.4,223.4 557.7,211.0" fill="#ffd405" stroke="#fff" stroke-width="0.45" stroke-opacity="0.75"/>
<polygon points="619.0,195.5 621.4,197.8 622.0,201.4 624.4,204.4 626.1,207.9 623.8,209.7 621.4,212.1 620.8,214.4 620.2,217.4 621.4,220.9 622.6,225.7 617.3,225.7 611.3,219.8 606.6,210.3 609.5,208.5 610.7,206.1 613.1,203.8 615.5,200.2 617.8,198.4" fill="#ed1c24" stroke="#fff" stroke-width="0.45" stroke-opacity="0.75"/>
<polygon points="597.1,197.8 599.5,197.5 601.3,195.8 609.0,195.2 611.9,193.5 616.7,193.5 619.3,195.2 618.1,198.4 615.7,200.2 613.3,203.8 611.0,206.1 609.5,208.7 607.8,207.0 609.0,204.4 607.8,200.2 600.7,200.2 597.1,200.2" fill="#ffd405"/>
<polygon points="600.7,200.2 607.8,200.2 609.0,204.4 607.8,207.0 605.4,205.5 603.0,207.0 601.3,204.4" fill="#9e0b0f" stroke="#fff" stroke-width="0.45" stroke-opacity="0.75"/>
<polygon points="601.3,196.3 608.4,196.1 609.0,198.4 601.8,199.0" fill="#fff"/>
<polyline points="626.5,208.2 630.1,206.4 633.6,207.3 635.4,210.8 639.0,214.4 641.7,218.0 639.0,219.7 637.2,217.1 633.6,214.4 630.1,213.5 627.4,211.7 626.5,208.2" fill="none" stroke="#fff" stroke-width="0.5" stroke-opacity="0.8"/>
<polyline points="631.3,223.8 632.8,220.6 637.2,219.7 641.7,218.8 642.6,223.3 639.0,226.0 635.4,227.8" fill="none" stroke="#fff" stroke-width="0.5" stroke-opacity="0.8"/>
<polyline points="633.6,207.3 638.1,205.5 641.7,208.2" fill="none" stroke="#fff" stroke-width="0.5" stroke-opacity="0.8"/>
<polyline points="627.4,211.7 625.6,215.3 628.3,218.8 632.8,220.6" fill="none" stroke="#fff" stroke-width="0.5" stroke-opacity="0.8"/>
<polyline points="683.8,176.7 685.5,176.3 687.3,175.5" fill="none" stroke="#fff" stroke-width="0.5" stroke-opacity="0.8"/>
<polygon points="468.9,164.2 471.3,160.7 474.2,157.7 477.8,156.5 480.7,158.3 483.7,157.7 485.5,155.9 487.0,157.3 489.0,157.8 490.2,156.2 488.4,155.3 491.0,154.5 493.2,151.8 495.0,150.6 495.8,152.4 494.1,154.5 493.8,155.9 492.0,158.3 494.4,160.1 496.7,162.4 498.5,165.4 497.3,167.8 493.8,168.4 489.6,167.8 485.5,167.2 481.3,166.6 477.8,167.8 474.2,169.0 470.7,168.4" fill="#fff"/>
<polygon points="509.8,160.1 511.5,157.7 514.5,156.5 519.2,155.9 524.0,156.5 525.8,158.3 524.6,160.1 521.6,159.5 519.2,160.1 518.6,161.8 520.4,163.6 523.4,164.8 526.4,166.0 526.9,167.8 525.2,169.5 524.6,171.9 525.2,174.3 524.6,176.7 521.6,178.2 518.6,178.4 516.3,176.7 515.1,173.7 514.5,170.7 513.9,167.8 512.1,165.4 510.7,163.0" fill="#fff"/>
<polyline points="520.0,144.1 527.1,145.8 537.8,146.7 541.4,138.7 549.4,136.9 561.9,135.1 568.1,138.7 573.4,137.8 581.5,144.9 591.3,148.5 597.5,150.6 607.3,146.7 616.2,148.1 620.7,144.9 625.1,143.2 630.5,146.7 639.4,148.5 648.3,149.4 657.2,148.5 664.3,146.7 667.9,143.2 670.0,141.4" fill="none" stroke="#fff" stroke-width="0.5" stroke-opacity="0.8"/>
<polyline points="597.5,150.6 603.7,153.8 607.3,159.2 616.2,162.8 626.9,166.0 637.6,167.2 648.3,164.5 651.8,160.1 660.7,157.4 668.8,155.6 662.5,153.0 660.7,151.2 664.3,148.5" fill="none" stroke="#fff" stroke-width="0.5" stroke-opacity="0.8"/>
<polyline points="597.5,150.6 589.5,154.7 585.9,160.1 582.4,161.9 581.5,165.4 573.4,165.4 565.4,167.2 562.8,169.0" fill="none" stroke="#fff" stroke-width="0.5" stroke-opacity="0.8"/>
<polyline points="640.0,147.8 648.9,148.7 658.7,149.6 666.7,146.9 669.4,141.6 675.6,139.8 681.9,142.5 684.5,147.8 691.7,153.2 697.0,154.1 701.5,152.3 698.8,156.7 694.3,161.2 692.6,165.6" fill="none" stroke="#fff" stroke-width="0.5" stroke-opacity="0.8"/>
<polyline points="640.0,166.5 648.9,164.7 650.7,161.2 659.6,158.5 668.5,154.9 663.2,153.2 658.7,152.3 658.7,149.6" fill="none" stroke="#fff" stroke-width="0.5" stroke-opacity="0.8"/>
<polyline points="510.1,149.6 515.4,146.0 522.5,145.1 530.0,144.3" fill="none" stroke="#fff" stroke-width="0.5" stroke-opacity="0.8"/>
</g>
<g clip-path="url(#c6)" opacity="0.999"><rect x="0" y="0" width="844" height="449" fill="#ffd405"/>
</g>
<g clip-path="url(#c7)" opacity="0.999"><rect x="0" y="0" width="844" height="449" fill="#f7931e"/>
</g>
<g clip-path="url(#c8)" opacity="0.999"><rect x="0" y="0" width="844" height="449" fill="#f7931e"/>
</g>
<g clip-path="url(#c9)" opacity="0.999"><rect x="0" y="0" width="844" height="449" fill="#ffd405"/>
<polygon points="395.5,180.1 399.6,181.3 404.4,181.8 404.4,183.0 403.8,186.6 399.6,188.4 395.5,191.3 390.1,194.3 389.0,197.0 380.7,197.0 377.1,193.7 387.8,181.8" fill="#f7931e" stroke="#fff" stroke-width="0.45" stroke-opacity="0.75"/>
<polygon points="379.5,196.8 389.0,197.0 388.7,199.4 383.0,199.6 381.3,202.6 379.2,205.5 378.9,208.2 370.0,209.1 370.0,204.4" fill="#939598" stroke="#fff" stroke-width="0.45" stroke-opacity="0.75"/>
<polygon points="425.1,177.1 432.8,177.1 432.8,186.6 432.2,186.6 430.4,189.5 428.6,191.9 428.1,189.0 426.3,186.6 425.1,183.0" fill="#9e0b0f" stroke="#fff" stroke-width="0.45" stroke-opacity="0.75"/>
<polygon points="428.6,191.9 430.4,189.5 432.2,186.4 436.4,184.2 464.8,184.2 462.4,190.3 462.4,211.7 459.8,210.8 439.3,206.0 433.9,206.0 433.0,202.8 430.4,198.4" fill="#ed1c24" stroke="#fff" stroke-width="0.45" stroke-opacity="0.75"/>
<polygon points="462.4,185.0 495.4,185.0 495.4,207.3 462.4,207.8" fill="#9e0b0f" stroke="#fff" stroke-width="0.45" stroke-opacity="0.75"/>
<polygon points="436.1,205.0 445.6,205.0 445.6,242.9 426.6,242.9 431.4,235.8 436.1,231.7 439.1,226.9 437.3,224.0 440.8,216.8 441.4,212.1" fill="#cce5c0"/>
<polygon points="394.0,200.3 394.6,216.8 395.8,219.8 382.2,220.4 382.8,224.0 387.5,226.3 390.5,226.9 391.7,229.9 395.8,229.9 397.6,226.3 401.7,224.0 405.3,222.2 408.8,222.5 414.8,218.0 416.5,213.9 404.7,205.0 399.4,200.3" fill="#f4efbc" stroke="#fff" stroke-width="0.45" stroke-opacity="0.75"/>
<polygon points="408.8,222.5 414.8,218.0 416.5,213.9 427.8,208.6 433.7,205.6 436.1,203.8 439.1,207.4 441.4,212.1 440.8,216.8 437.9,221.0 437.3,224.0 432.5,224.5 426.6,225.1 420.7,224.0 416.5,224.5 414.8,226.9 411.8,228.1 412.4,225.7" fill="#21a84a" stroke="#fff" stroke-width="0.45" stroke-opacity="0.75"/>
<polygon points="439.3,206.0 459.8,210.8 459.8,218.0 457.1,223.3 456.2,227.8 465.1,234.9 470.5,238.4 475.8,241.1 474.9,242.9 474.9,250.0 473.1,256.3 474.0,267.0 434.8,267.0 433.9,257.2 436.6,252.7 434.8,244.7 429.5,244.7 427.7,238.4 431.3,234.9 435.7,230.4 438.4,225.1 437.5,223.3 441.1,218.0 442.0,211.7" fill="#cce5c0" stroke="#fff" stroke-width="0.45" stroke-opacity="0.75"/>
<polygon points="462.4,207.8 495.4,207.3 495.4,216.2 488.3,220.6 485.6,225.1 482.9,230.4 480.3,234.0 484.7,239.3 481.1,241.1 475.8,241.1 470.5,238.4 465.1,234.9 459.8,230.4 457.1,226.0 457.1,223.3 459.8,218.0 459.8,210.8 462.4,211.7" fill="#21a84a" stroke="#fff" stroke-width="0.45" stroke-opacity="0.75"/>
<polygon points="487.4,221.6 489.8,215.7 495.7,219.2 501.6,225.7 498.6,227.3 495.7,224.5 492.1,222.5 489.2,222.2" fill="#a6ce39" stroke="#fff" stroke-width="0.45" stroke-opacity="0.75"/>
<polygon points="480.9,234.0 483.2,229.9 487.4,222.8 489.2,222.2 492.1,222.5 495.7,224.5 498.6,227.3 499.2,228.7 501.6,230.5 506.4,233.4 511.1,234.6 504.0,239.4 498.1,242.3 493.3,242.9 488.6,241.1 484.4,240.0 482.7,237.0" fill="#21a84a" stroke="#fff" stroke-width="0.45" stroke-opacity="0.75"/>
<polygon points="498.9,226.3 501.6,225.9 502.4,228.7 499.8,229.3 499.0,228.1" fill="#ed1c24"/>
<polygon points="474.9,242.9 482.9,242.0 482.9,246.5 481.1,250.0 474.9,250.0" fill="#f4efbc" stroke="#fff" stroke-width="0.45" stroke-opacity="0.75"/>
<polygon points="414.8,226.9 416.5,224.5 420.7,224.0 426.6,225.1 432.5,224.5 437.3,224.0 439.1,226.9 436.1,231.7 433.7,234.6 430.8,236.4 427.8,238.2 427.2,241.7 423.1,241.7 420.1,241.1 417.1,238.8 413.8,239.4 414.2,233.4 415.4,229.9" fill="#21a84a" stroke="#fff" stroke-width="0.45" stroke-opacity="0.75"/>
<polygon points="408.2,229.9 409.8,229.3 411.8,228.1 414.8,226.9 415.4,229.9 414.2,233.4 413.8,240.0 409.4,240.0 408.8,234.6" fill="#cce5c0" stroke="#fff" stroke-width="0.45" stroke-opacity="0.75"/>
<polyline points="409.8,229.3 410.6,234.6 411.0,239.4" fill="none" stroke="#fff" stroke-width="0.5" stroke-opacity="0.8"/>
<polygon points="401.7,229.3 406.5,228.7 408.2,229.9 408.8,234.6 409.4,240.5 401.7,240.5 401.1,236.4 402.3,232.8" fill="#21a84a" stroke="#fff" stroke-width="0.45" stroke-opacity="0.75"/>
<polygon points="389.9,229.9 395.8,229.9 400.5,230.5 401.7,234.6 401.1,240.5 390.5,241.1 391.1,238.8 389.3,236.4 389.3,232.8" fill="#f4efbc" stroke="#fff" stroke-width="0.45" stroke-opacity="0.75"/>
<polygon points="372.7,226.1 376.8,224.9 382.8,224.4 387.5,226.3 389.9,229.9 389.3,232.8 389.3,236.4 391.1,238.8 390.5,241.7 379.2,235.8 372.1,228.7" fill="#a6ce39" stroke="#fff" stroke-width="0.45" stroke-opacity="0.75"/>
<polygon points="377.4,232.8 379.2,232.3 381.6,231.1 384.5,232.8 382.8,235.2 379.8,236.0" fill="#ed1c24" stroke="#fff" stroke-width="0.45" stroke-opacity="0.75"/>
<polygon points="369.7,219.8 379.2,218.6 382.2,221.0 382.8,224.0 376.8,224.5 376.8,226.9 370.9,227.5 369.7,224.0" fill="#cce5c0" stroke="#fff" stroke-width="0.45" stroke-opacity="0.75"/>
<polygon points="426.6,245.9 433.1,245.3 436.1,245.9 440.8,245.9 439.6,248.2 440.8,251.8 436.1,252.4 433.7,255.4 431.4,257.1 426.6,252.4" fill="#f4efbc" stroke="#fff" stroke-width="0.45" stroke-opacity="0.75"/>
<polygon points="471.2,254.1 473.3,254.1 473.3,256.6 471.2,256.6" fill="#f7931e"/>
<polyline points="438.4,225.1 441.1,232.2 445.5,234.0 450.9,231.3 456.2,227.8" fill="none" stroke="#fff" stroke-width="0.5" stroke-opacity="0.8"/>
<polyline points="441.1,232.2 439.3,236.7 442.0,242.0 443.7,242.0 449.1,239.3 456.2,240.2 463.3,239.3 470.5,238.4" fill="none" stroke="#fff" stroke-width="0.5" stroke-opacity="0.8"/>
<polyline points="429.5,244.7 434.8,244.7 442.8,244.7" fill="none" stroke="#fff" stroke-width="0.5" stroke-opacity="0.8"/>
<polyline points="443.7,242.0 448.2,245.6 445.5,252.7 442.8,259.8 438.4,260.7" fill="none" stroke="#fff" stroke-width="0.5" stroke-opacity="0.8"/>
<polyline points="459.8,230.4 466.9,229.5 474.0,230.4 482.9,230.4" fill="none" stroke="#fff" stroke-width="0.5" stroke-opacity="0.8"/>
<polygon points="433.2,257.5 435.8,261.0 445.6,261.0 448.3,262.8 455.4,262.8 456.7,268.2 461.7,269.9 467.0,270.8 470.6,268.2 471.5,265.5 473.2,262.8 472.4,260.1 473.2,255.7 472.4,252.1 474.1,247.7 475.0,241.4 443.8,241.4 442.1,252.1 438.5,256.6" fill="#cce5c0" stroke="#fff" stroke-width="0.45" stroke-opacity="0.75"/>
<polygon points="435.8,261.0 445.6,261.0 448.3,262.8 455.4,262.8 456.7,268.2 461.7,269.9 459.9,273.5 456.7,276.2 456.7,281.5 433.5,281.5 429.6,275.3 431.4,264.6" fill="#f4efbc" stroke="#fff" stroke-width="0.45" stroke-opacity="0.75"/>
<polygon points="456.7,276.2 459.9,273.5 461.7,269.9 467.0,270.8 470.6,268.2 471.5,265.5 475.9,265.5 478.6,268.2 479.5,271.7 476.8,274.4 473.2,276.2 470.6,278.8 467.0,281.5 461.7,281.5 458.1,280.6" fill="#f7931e" stroke="#fff" stroke-width="0.45" stroke-opacity="0.75"/>
<polygon points="467.0,281.5 470.6,278.8 475.9,278.8 479.5,281.5 478.6,286.9 475.0,290.4 470.6,289.5 467.0,286.0" fill="#f7931e" stroke="#fff" stroke-width="0.45" stroke-opacity="0.75"/>
<polygon points="429.6,281.5 452.8,282.1 461.7,282.1 461.7,282.9 453.1,283.1 451.9,291.3 451.3,298.4 450.1,302.9 445.6,303.4 438.5,302.0" fill="#f7931e" stroke="#fff" stroke-width="0.45" stroke-opacity="0.75"/>
<polygon points="467.4,304.1 469.7,303.4 470.9,305.2 469.1,307.0 467.4,305.9" fill="#9e0b0f"/>
<polygon points="475.6,298.1 477.3,298.1 477.3,300.6 475.6,300.6" fill="#cce5c0"/>
<polyline points="453.1,283.1 456.3,287.8 461.7,288.6 467.0,286.0" fill="none" stroke="#fff" stroke-width="0.5" stroke-opacity="0.8"/>
<polyline points="451.3,298.4 456.3,296.7 461.7,294.0 467.0,291.7 470.6,289.5 475.0,290.4 476.8,296.7 481.3,298.4" fill="none" stroke="#fff" stroke-width="0.5" stroke-opacity="0.8"/>
<polyline points="479.5,281.5 484.8,278.8 481.3,271.7 478.6,268.2 483.0,264.6 495.5,262.8" fill="none" stroke="#fff" stroke-width="0.5" stroke-opacity="0.8"/>
<polyline points="498.1,242.3 498.1,248.8 499.2,251.2" fill="none" stroke="#fff" stroke-width="0.5" stroke-opacity="0.8"/>
<polyline points="482.7,251.8 487.4,254.8 492.1,258.0" fill="none" stroke="#fff" stroke-width="0.5" stroke-opacity="0.8"/>
<polyline points="482.7,241.7 483.2,245.9 482.7,251.8" fill="none" stroke="#fff" stroke-width="0.5" stroke-opacity="0.8"/>
</g>
<g clip-path="url(#c10)" opacity="0.999"><rect x="0" y="0" width="844" height="449" fill="#f7931e"/>
</g>
<g clip-path="url(#c11)" opacity="0.999"><rect x="0" y="0" width="844" height="449" fill="#f4efbc"/>
<polygon points="248.9,227.0 253.1,226.0 259.0,226.4 264.9,228.2 270.8,227.6 275.6,229.4 277.9,234.1 275.0,236.5 276.8,240.0 273.2,240.6 270.8,241.2 268.5,242.4 267.3,247.1 263.7,247.7 261.9,243.6 260.8,238.8 256.6,237.1 253.1,235.9 250.7,232.9" fill="#ffd405" stroke="#fff" stroke-width="0.45" stroke-opacity="0.75"/>
<polygon points="276.8,231.7 280.3,233.5 283.3,237.7 282.1,241.2 283.3,244.8 280.3,245.9 278.5,242.4 276.2,240.6 275.0,236.5 277.9,234.1" fill="#ed1c24" stroke="#fff" stroke-width="0.45" stroke-opacity="0.75"/>
<polygon points="282.7,236.5 289.8,236.5 289.8,244.2 283.9,244.8 283.3,241.8 282.1,241.2" fill="#a6ce39" stroke="#fff" stroke-width="0.45" stroke-opacity="0.75"/>
<polygon points="290.1,236.5 293.3,237.1 295.7,241.8 292.7,244.2 290.1,244.2" fill="#939598" stroke="#fff" stroke-width="0.45" stroke-opacity="0.75"/>
<polygon points="258.0,270.4 265.1,267.8 266.9,272.2 274.9,275.8 278.4,279.3 282.0,282.9 281.1,286.5 276.7,285.6 273.1,288.2 270.4,291.8 261.5,291.8 259.7,287.4 258.0,282.0 258.8,275.8" fill="#9e0b0f" stroke="#fff" stroke-width="0.45" stroke-opacity="0.75"/>
<polygon points="259.5,290.0 270.0,290.5 276.2,294.5 283.8,296.2 290.0,298.8 286.2,302.5 282.5,307.0 281.2,313.8 287.5,320.0 281.2,326.2 272.5,328.8 271.2,332.5 266.2,335.0 265.0,341.2 261.2,345.0 262.5,348.8 257.5,353.8 256.2,358.8 261.2,362.0 263.0,363.8 257.5,361.2 252.5,356.2 249.5,350.0 250.0,342.5 251.2,332.5 253.8,320.0 255.5,307.5 257.5,297.5" fill="#f7931e" stroke="#fff" stroke-width="0.45" stroke-opacity="0.75"/>
<polygon points="252.5,285.0 257.0,283.8 259.5,290.0 257.5,297.5 255.5,307.5 253.8,320.0 251.2,332.5 250.0,342.5 249.5,350.0 252.5,356.2 257.5,361.2 257.5,365.0 240.0,365.0 240.0,345.0 246.2,307.5 250.0,285.0" fill="#ed1c24" stroke="#fff" stroke-width="0.45" stroke-opacity="0.75"/>
<polyline points="257.5,245.0 252.5,248.8 248.8,252.5 247.5,257.5 250.0,263.8 257.5,266.2 263.8,268.0" fill="none" stroke="#fff" stroke-width="0.5" stroke-opacity="0.8"/>
<polyline points="263.8,246.2 272.5,248.8 276.2,242.5 282.5,245.0 288.8,244.5 292.5,244.5 294.5,242.0" fill="none" stroke="#fff" stroke-width="0.5" stroke-opacity="0.8"/>
<polyline points="281.2,282.5 282.5,290.0 288.8,292.5 290.0,298.8" fill="none" stroke="#fff" stroke-width="0.5" stroke-opacity="0.8"/>
<polyline points="282.5,307.0 287.5,308.8 291.2,312.5" fill="none" stroke="#fff" stroke-width="0.5" stroke-opacity="0.8"/>
</g>
<g clip-path="url(#c12)" opacity="0.999"><rect x="0" y="0" width="844" height="449" fill="#a6ce39"/>
</g>
<g clip-path="url(#c13)" opacity="0.999"><rect x="0" y="0" width="844" height="449" fill="#f4efbc"/>
</g>
<g clip-path="url(#c14)" opacity="0.999"><rect x="0" y="0" width="844" height="449" fill="#ffd405"/>
</g>
<g clip-path="url(#c15)" opacity="0.999"><rect x="0" y="0" width="844" height="449" fill="#f4efbc"/>
</g>
<g clip-path="url(#c16)" opacity="0.999"><rect x="0" y="0" width="844" height="449" fill="#cce5c0"/>
</g>
<g clip-path="url(#c17)" opacity="0.999"><rect x="0" y="0" width="844" height="449" fill="#ffd405"/>
</g>
<g clip-path="url(#c18)" opacity="0.999"><rect x="0" y="0" width="844" height="449" fill="#f7931e"/>
</g>
<g clip-path="url(#c19)" opacity="0.999"><rect x="0" y="0" width="844" height="449" fill="#cce5c0"/>
</g>
<g clip-path="url(#c20)" opacity="0.999"><rect x="0" y="0" width="844" height="449" fill="#939598"/>
</g>
<g clip-path="url(#c21)" opacity="0.999"><rect x="0" y="0" width="844" height="449" fill="#f4efbc"/>
</g>
<g clip-path="url(#c22)" opacity="0.999"><rect x="0" y="0" width="844" height="449" fill="#9e0b0f"/>
<polyline points="714.5,253.4 714.5,265.4" fill="none" stroke="#fff" stroke-width="0.5" stroke-opacity="0.8"/>
</g>
</svg>
<h1>Smoking prevalence in 2012, men</h1>
<div class="lh">Smoking prevalence (percent of population)</div>
<div class="sw" style="left:39.2px;top:398px;background:#08427a"></div><div class="lt" style="left:58.8px;top:396.6px">0.5 to &lt;2.6</div>
<div class="sw" style="left:168.0px;top:398px;background:#0a7a5a"></div><div class="lt" style="left:187.5px;top:396.6px">2.6 to &lt;5.6</div>
<div class="sw" style="left:295.7px;top:398px;background:#21a84a"></div><div class="lt" style="left:316.1px;top:396.6px">5.6 to &lt;9.8</div>
<div class="sw" style="left:424.8px;top:398px;background:#a6ce39"></div><div class="lt" style="left:444.4px;top:396.6px">9.8 to &lt;13.3</div>
<div class="sw" style="left:555.2px;top:398px;background:#cce5c0"></div><div class="lt" style="left:573.9px;top:396.6px">13.3 to &lt;16.5</div>
<div class="sw" style="left:39.2px;top:425px;background:#f4efbc"></div><div class="lt" style="left:58.8px;top:423.6px">16.5 to &lt;19.7</div>
<div class="sw" style="left:168.0px;top:425px;background:#ffd405"></div><div class="lt" style="left:187.5px;top:423.6px">19.7 to &lt;23.4</div>
<div class="sw" style="left:295.7px;top:425px;background:#f7931e"></div><div class="lt" style="left:316.1px;top:423.6px">23.4 to &lt;27.5</div>
<div class="sw" style="left:424.8px;top:425px;background:#ed1c24"></div><div class="lt" style="left:444.4px;top:423.6px">27.5 to &lt;34.7</div>
<div class="sw" style="left:555.2px;top:425px;background:#9e0b0f"></div><div class="lt" style="left:573.9px;top:423.6px">34.7 to &lt;61.1</div>
<div class="sw" style="left:686.0px;top:425px;background:#939598"></div><div class="lt" style="left:703.8px;top:423.6px">No data</div>
</body></html>
